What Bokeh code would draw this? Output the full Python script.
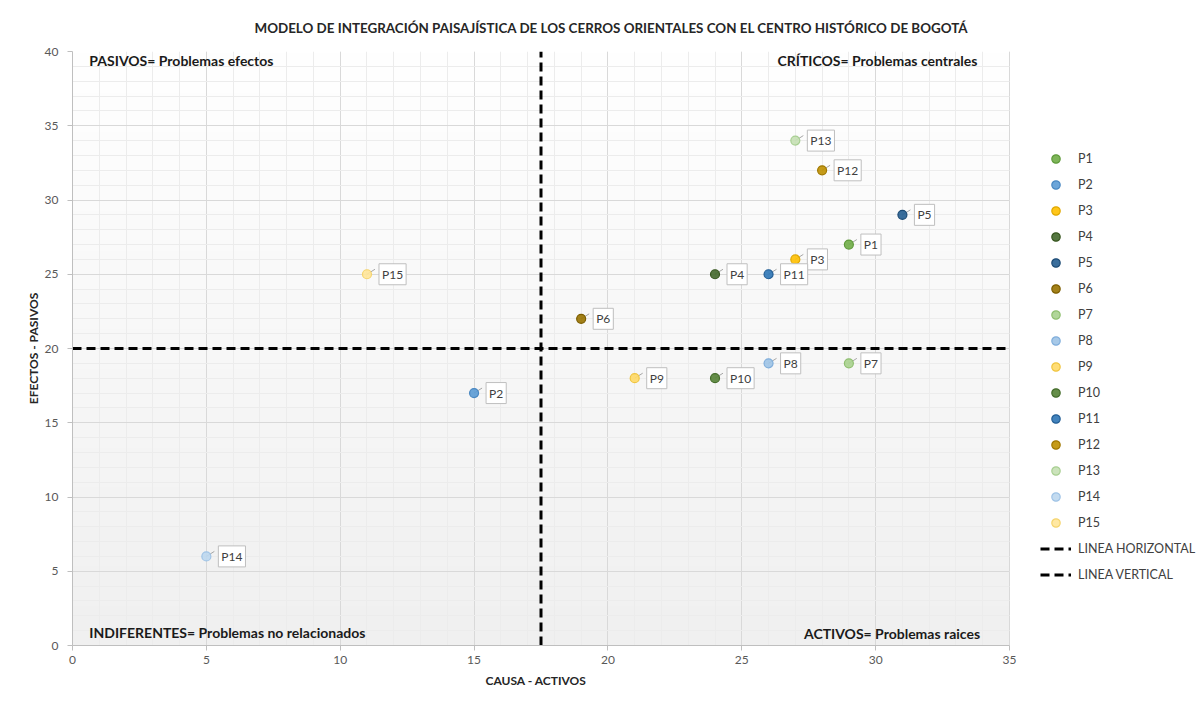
import numpy as np
from bokeh.plotting import figure
from bokeh.models import Label, Legend, LegendItem, FixedTicker, Range1d, Grid, Title
from bokeh.embed import file_html
from bokeh.resources import INLINE

# ---- data ----
names = ["P1", "P2", "P3", "P4", "P5", "P6", "P7", "P8", "P9", "P10",
         "P11", "P12", "P13", "P14", "P15"]
causa = [29, 15, 27, 24, 31, 19, 29, 26, 21, 24, 26, 28, 27, 5, 11]
efectos = [27, 17, 26, 25, 29, 22, 19, 19, 18, 18, 25, 32, 34, 6, 25]
fill_colors = ["#70AD47", "#5B9BD5", "#FFC000", "#43682B", "#255E91", "#997300",
               "#A9D18E", "#9DC3E6", "#FFD966", "#548235", "#2E75B6", "#BF9000",
               "#C5E0B4", "#BDD7EE", "#FFE699"]
edge_colors = ["#5E9A3A", "#4A88C2", "#E0A800", "#37561F", "#1D4B75", "#7D5E00",
               "#8FBF70", "#80AEDB", "#F0C540", "#446C2A", "#235E95", "#A07800",
               "#A8CF92", "#9FC3E6", "#F5D46E"]
hline_x = [0, 35]
hline_y = [20, 20]
vline_x = [17.5, 17.5]
vline_y = [0, 40]
x_ticks = [0, 5, 10, 15, 20, 25, 30, 35]
y_ticks = [0, 5, 10, 15, 20, 25, 30, 35, 40]

title_text = "MODELO DE INTEGRACIÓN PAISAJÍSTICA DE LOS CERROS ORIENTALES CON EL CENTRO HISTÓRICO DE BOGOTÁ"
x_label = "CAUSA - ACTIVOS"
y_label = "EFECTOS - PASIVOS"
quadrants = ["PASIVOS= Problemas efectos", "CRÍTICOS= Problemas centrales",
             "INDIFERENTES= Problemas no relacionados", "ACTIVOS= Problemas raices"]

FONT = "Lato"

W = 1200
LEFT, TOP, BOTTOM = 72, 51, 43
PLOT_W = 937                      # pixel width of the 0..35 data area
PLOT_H = 594
FRAME_W = W - LEFT
x_max = x_ticks[-1]
y_max = y_ticks[-1]
x_end = x_max * FRAME_W / PLOT_W  # frame extends right to hold the legend

p = figure(frame_width=FRAME_W, frame_height=PLOT_H, output_backend="svg",
           toolbar_location=None,
           x_range=Range1d(0, x_end), y_range=Range1d(0, y_max),
           min_border_left=LEFT, min_border_right=0, min_border_top=TOP,
           min_border_bottom=BOTTOM)
p.outline_line_color = None
p.background_fill_color = "white"

# title
p.title.text = title_text
p.title.align = "left"
p.title.offset = 182
p.title.standoff = 32
p.title.text_font = FONT
p.title.text_font_size = "13.4px"
p.title.text_font_style = "bold"
p.title.text_color = "#262626"

# vertical gradient background for the plot area
n = 256
grad = np.linspace(240, 255, n).astype(np.uint8)
img = np.empty((n, 2), dtype=np.uint32)
view = img.view(dtype=np.uint8).reshape((n, 2, 4))
view[:, :, 0] = grad[:, None]
view[:, :, 1] = grad[:, None]
view[:, :, 2] = grad[:, None]
view[:, :, 3] = 255
p.image_rgba(image=[img], x=0, y=0, dw=x_max, dh=y_max, level="image")

# axes
for ax, ticks in ((p.xaxis, x_ticks), (p.yaxis, y_ticks)):
    ax.ticker = FixedTicker(ticks=ticks,
                            minor_ticks=list(range(0, ticks[-1] + 1)))
    ax.bounds = (0, ticks[-1])
    ax.axis_line_color = "#bfbfbf"
    ax.major_tick_line_color = "#bfbfbf"
    ax.major_tick_out = 5
    ax.major_tick_in = 0
    ax.minor_tick_line_color = None
    ax.major_label_text_font = FONT
    ax.major_label_text_font_size = "12px"
    ax.major_label_text_color = "#595959"
    ax.axis_label_text_font = FONT
    ax.axis_label_text_font_size = "12px"
    ax.axis_label_text_font_style = "bold"
    ax.axis_label_text_color = "#262626"
p.yaxis.axis_label = y_label
p.xaxis.major_label_standoff = 5
p.yaxis.major_label_standoff = 9
p.yaxis.axis_label_standoff = 1

# x-axis title centred under the 0..35 area
p.add_layout(Title(text=x_label, align="left", offset=413, standoff=9,
                   text_font=FONT, text_font_size="12px", text_font_style="bold",
                   text_color="#262626"), "below")

p.grid.grid_line_color = "#d9d9d9"
p.grid.minor_grid_line_color = "#ececec"
if "cross_bounds" in Grid.properties():
    p.ygrid.cross_bounds = (0, x_max)
    p.xgrid.cross_bounds = (0, y_max)
else:
    p.quad(left=[x_max + 0.05], right=[x_end], bottom=[0], top=[y_max],
           fill_color="white", line_color=None)

# dashed reference lines
rh = p.line(hline_x, hline_y, line_color="black", line_width=3, line_dash="9 5")
rv = p.line(vline_x, vline_y, line_color="black", line_width=3, line_dash="9 5")

# leader lines and points
dx = 8 / 26.77
dy = 5 / 14.85
items = []
for i, nm in enumerate(names):
    p.segment(x0=[causa[i]], y0=[efectos[i]], x1=[causa[i] + dx], y1=[efectos[i] + dy],
              line_color="#a6a6a6", line_width=1)
for i, nm in enumerate(names):
    r = p.scatter([causa[i]], [efectos[i]], size=9, fill_color=fill_colors[i],
                  fill_alpha=0.9, line_color=edge_colors[i], line_width=1.2)
    items.append(LegendItem(label=nm, renderers=[r]))
    p.add_layout(Label(x=causa[i], y=efectos[i], text=nm, x_offset=12, y_offset=0,
                       text_baseline="middle", text_font=FONT, text_font_size="12px",
                       text_color="#404040", background_fill_color="white",
                       border_line_color="#bfbfbf", border_line_width=1, padding=3))
items.append(LegendItem(label="LINEA HORIZONTAL", renderers=[rh]))
items.append(LegendItem(label="LINEA VERTICAL", renderers=[rv]))

legend = Legend(items=items, location=(968, 60), orientation="vertical",
                glyph_width=31, glyph_height=21, label_height=21, spacing=5,
                label_standoff=7, padding=0, margin=0,
                border_line_color=None, background_fill_alpha=0,
                label_text_font=FONT, label_text_font_size="12.5px",
                label_text_color="#404040")
p.add_layout(legend, "center")

# quadrant labels
qx = [0.63, 33.8, 0.63, 33.9]
qy = [39.4, 39.4, 0.85, 0.8]
qa = ["left", "right", "left", "right"]
for t, x, y, a in zip(quadrants, qx, qy, qa):
    p.add_layout(Label(x=x, y=y, text=t, text_align=a, text_baseline="middle",
                       text_font=FONT, text_font_size="14px", text_font_style="bold",
                       text_color="#1a1a1a"))

open("out.html", "w").write(file_html(p, INLINE))
